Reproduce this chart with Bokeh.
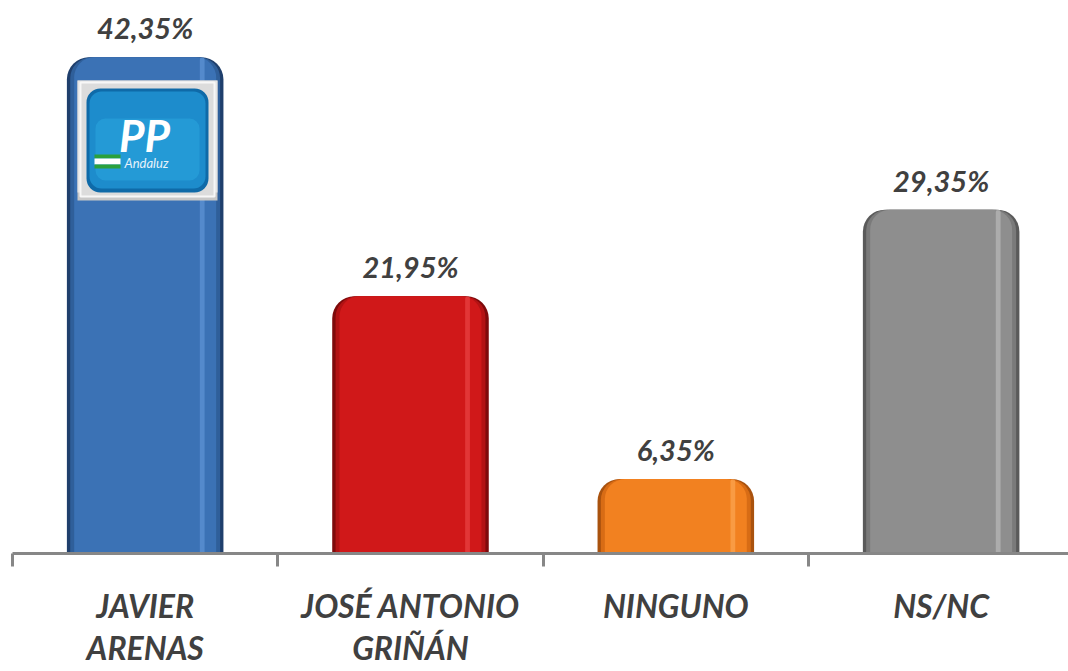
from bokeh.plotting import figure
from bokeh.models import ColumnDataSource, Range1d, FixedTicker
from bokeh.core.properties import value
from bokeh.embed import file_html
from bokeh.resources import INLINE

categories = ["JAVIER\nARENAS", "JOSÉ ANTONIO\nGRIÑÁN", "NINGUNO", "NS/NC"]
values = [42.35, 21.95, 6.35, 29.35]
value_labels = ["42,35%", "21,95%", "6,35%", "29,35%"]
colors = ["#3b72b5", "#d01819", "#f28120", "#8e8e8e"]
mid_colors = ["#2f5f9a", "#b31213", "#d86c15", "#7a7a7a"]
edge_colors = ["#1f3f6c", "#7e0a0b", "#a9520e", "#5a5a5a"]
light_colors = ["#6a9fde", "#f05050", "#ffb060", "#c4c4c4"]

xs = [i + 0.5 for i in range(len(categories))]
hx = [x + 0.215 for x in xs]
src = ColumnDataSource(dict(x=xs, hx=hx, top=values, label=value_labels, color=colors,
                            mid=mid_colors, edge=edge_colors, light=light_colors))

W, H = 1068, 671
XMAX, YMAX = 3.98, 47.2
FW = W - 12
FH = 553


def px2x(px):
    return (px - 12) / (FW / XMAX)


def px2y(py):
    return (FH - py) / (FH / YMAX)


p = figure(width=W, height=H, output_backend="svg", toolbar_location=None,
           x_range=Range1d(0, XMAX), y_range=Range1d(0, YMAX),
           min_border_left=12, min_border_right=0, min_border_top=0, min_border_bottom=H - FH)
p.outline_line_color = None
p.xgrid.visible = False
p.ygrid.visible = False
p.yaxis.visible = False
p.background_fill_color = "white"
p.border_fill_color = "white"

# bars with rounded tops and simple shading
p.vbar(x="x", top="top", bottom=0, width=0.59, source=src, fill_color="edge", line_color=None,
       border_radius=(22, 22, 0, 0))
p.vbar(x="x", top="top", bottom=0, width=0.565, source=src, fill_color="mid", line_color=None,
       border_radius=(21, 21, 0, 0))
p.vbar(x="x", top="top", bottom=0, width=0.535, source=src, fill_color="color", line_color=None,
       border_radius=(20, 20, 0, 0))
p.vbar(x="hx", top="top", bottom=0, width=0.018, source=src, fill_color="light", fill_alpha=0.55,
       line_color=None, border_radius=(6, 6, 0, 0))

# value labels
p.text(x="x", y="top", text="label", source=src, text_align="center", text_baseline="bottom",
       y_offset=-12, text_font=value("Lato"), text_font_style="bold italic",
       text_font_size="29px", text_color="#404040")

# PP logo decoration on first bar (converted from pixel placement)
p.quad(left=[px2x(77)], right=[px2x(217)], top=[px2y(80)], bottom=[px2y(200)],
       fill_color="#c8c8c8", line_color=None)
p.quad(left=[px2x(77)], right=[px2x(217)], top=[px2y(80)], bottom=[px2y(192)],
       fill_color="#e4e4e4", line_color=None)
p.quad(left=[px2x(80)], right=[px2x(214)], top=[px2y(82)], bottom=[px2y(196)],
       fill_color="#dcdcdc", line_color="#f7f7f7", line_width=2)
p.quad(left=[px2x(86)], right=[px2x(208)], top=[px2y(88)], bottom=[px2y(192)],
       fill_color="#0f6aa8", line_color=None, border_radius=14)
p.quad(left=[px2x(89)], right=[px2x(205)], top=[px2y(91)], bottom=[px2y(188)],
       fill_color="#1d8ccc", line_color=None, border_radius=12)
p.quad(left=[px2x(95)], right=[px2x(199)], top=[px2y(118)], bottom=[px2y(180)],
       fill_color="#29a3dc", fill_alpha=0.6, line_color=None, border_radius=10)
p.text(x=[px2x(144)], y=[px2y(134)], text=["PP"], text_align="center", text_baseline="middle",
       text_font=value("Lato"), text_font_style="bold italic", text_font_size="44px",
       text_color="white")
p.quad(left=[px2x(94)], right=[px2x(120)], top=[px2y(154)], bottom=[px2y(158)],
       fill_color="#2aa03c", line_color=None)
p.quad(left=[px2x(94)], right=[px2x(120)], top=[px2y(158)], bottom=[px2y(164)],
       fill_color="white", line_color=None)
p.quad(left=[px2x(94)], right=[px2x(120)], top=[px2y(164)], bottom=[px2y(168)],
       fill_color="#2aa03c", line_color=None)
p.text(x=[px2x(124)], y=[px2y(162)], text=["Andaluz"], text_align="left", text_baseline="middle",
       text_font=value("Lato"), text_font_style="italic", text_font_size="13px",
       text_color="#e6f2fb")

# axis: category labels at bar centres, ticks at category boundaries
ax = p.xaxis[0]
ax.ticker = FixedTicker(ticks=xs, minor_ticks=[0, 1, 2, 3, 4])
ax.major_label_overrides = {x: c for x, c in zip(xs, categories)}
ax.axis_line_color = "#878787"
ax.axis_line_width = 3
ax.major_tick_line_color = None
ax.minor_tick_line_color = "#878787"
ax.minor_tick_line_width = 3
ax.minor_tick_in = 0
ax.minor_tick_out = 13
ax.major_label_standoff = 19
ax.major_label_text_font = "Lato"
ax.major_label_text_font_style = "bold italic"
ax.major_label_text_font_size = "32px"
ax.major_label_text_color = "#404040"
ax.major_label_text_line_height = 1.1

open("out.html", "w").write(file_html(p, INLINE))
